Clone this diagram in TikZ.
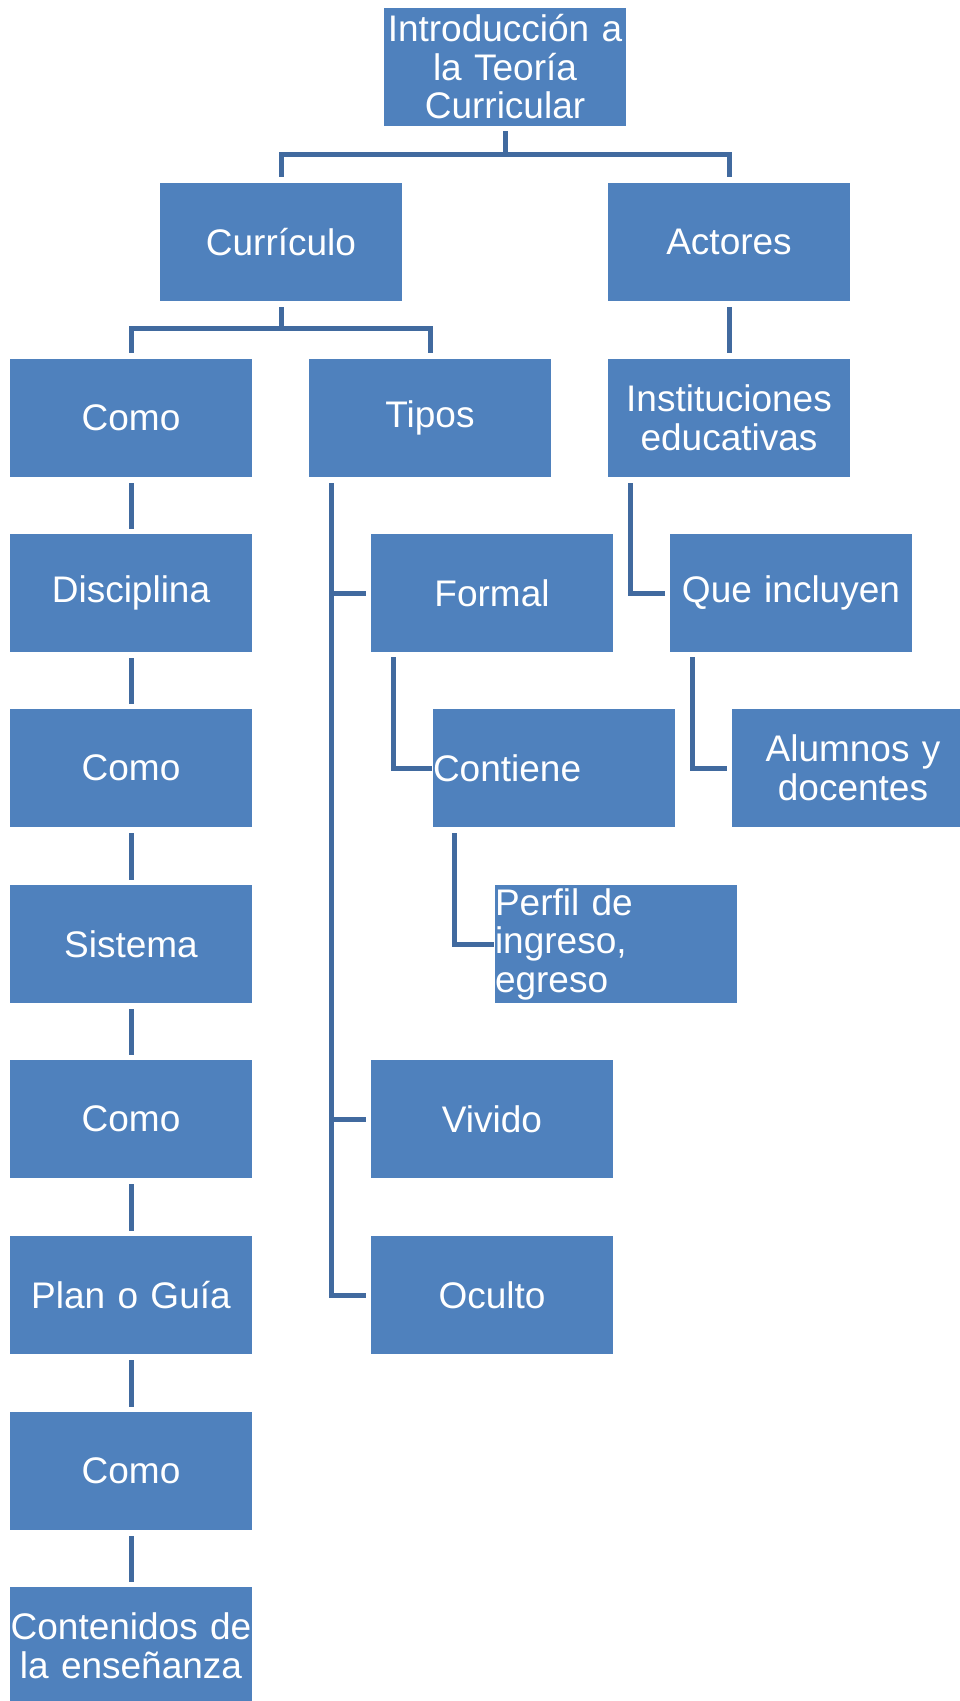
\documentclass[tikz,border=0pt]{standalone}
\usepackage{fontspec}
\setmainfont{Liberation Sans}
\definecolor{boxblue}{HTML}{4F81BD}
\definecolor{lineblue}{HTML}{416A9F}
\begin{document}
\begin{tikzpicture}[x=1pt,y=1pt,
  box/.style={rectangle, fill=boxblue, draw=none, inner sep=0pt, outer sep=0pt,
    minimum height=118pt, text width=242pt, align=center, text=white,
    font=\fontsize{37}{38.5}\selectfont, anchor=north west},
  leftbox/.style={box, align=left},
  conn/.style={draw=lineblue, line width=5pt}
]
\path[use as bounding box] (0,0) rectangle (960,-1701);
% nodes
\node[box] (intro) at (384,-8) {Introducción a\\la Teoría\\Curricular};
\node[box] (curr) at (160,-183) {Currículo};
\node[box] (act) at (608,-183) {Actores};
\node[box] (como1) at (10,-359) {Como};
\node[box] (tipos) at (309,-359) {Tipos};
\node[box] (inst) at (608,-359) {Instituciones\\educativas};
\node[box] (disc) at (10,-534) {Disciplina};
\node[box] (formal) at (371,-534) {Formal};
\node[box] (que) at (670,-534) {Que incluyen};
\node[box] (como2) at (10,-709) {Como};
\node[leftbox] (contiene) at (433,-709) {Contiene};
\node[box] (alum) at (732,-709) {Alumnos y\\docentes};
\node[box] (sist) at (10,-885) {Sistema};
\node[leftbox] (perfil) at (495,-885) {Perfil de\\ingreso,\\egreso};
\node[box] (como3) at (10,-1060) {Como};
\node[box] (vivido) at (371,-1060) {Vivido};
\node[box] (plan) at (10,-1236) {Plan o Guía};
\node[box] (oculto) at (371,-1236) {Oculto};
\node[box] (como4) at (10,-1412) {Como};
\node[box] (cont) at (10,-1587) {Contenidos de\\la enseñanza};
% connectors: top level
\draw[conn] ([yshift=-5pt]intro.south) -- ++(0,-23.5) -| ([yshift=6pt]curr.north);
\draw[conn] ([yshift=-5pt]intro.south) -- ++(0,-23.5) -| ([yshift=6pt]act.north);
\draw[conn] ([yshift=-6pt]curr.south) -- ++(0,-21) -| ([yshift=6pt]como1.north);
\draw[conn] ([yshift=-6pt]curr.south) -- ++(0,-21) -| ([yshift=6pt]tipos.north);
\draw[conn] ([yshift=-6pt]act.south) -- ([yshift=6pt]inst.north);
% chain on the left
\draw[conn] ([yshift=-6pt]como1.south) -- ([yshift=5pt]disc.north);
\draw[conn] ([yshift=-6pt]disc.south) -- ([yshift=5pt]como2.north);
\draw[conn] ([yshift=-6pt]como2.south) -- ([yshift=5pt]sist.north);
\draw[conn] ([yshift=-6pt]sist.south) -- ([yshift=5pt]como3.north);
\draw[conn] ([yshift=-6pt]como3.south) -- ([yshift=5pt]plan.north);
\draw[conn] ([yshift=-6pt]plan.south) -- ([yshift=5pt]como4.north);
\draw[conn] ([yshift=-6pt]como4.south) -- ([yshift=5pt]cont.north);
% tipos branch
\coordinate (tp) at ([xshift=22pt,yshift=-6pt]tipos.south west);
\draw[conn] (tp) |- ([xshift=-5pt]formal.west);
\draw[conn] (tp) |- ([xshift=-5pt]vivido.west);
\draw[conn] (tp) |- ([xshift=-5pt]oculto.west);
\draw[conn] ([xshift=22pt,yshift=-5pt]formal.south west) |- ([xshift=-1pt]contiene.west);
\draw[conn] ([xshift=21pt,yshift=-6pt]contiene.south west) |- ([xshift=-1pt]perfil.west);
% actores branch
\draw[conn] ([xshift=22pt,yshift=-6pt]inst.south west) |- ([xshift=-5pt]que.west);
\draw[conn] ([xshift=22pt,yshift=-5pt]que.south west) |- ([xshift=-5pt]alum.west);
\end{tikzpicture}
\end{document}
